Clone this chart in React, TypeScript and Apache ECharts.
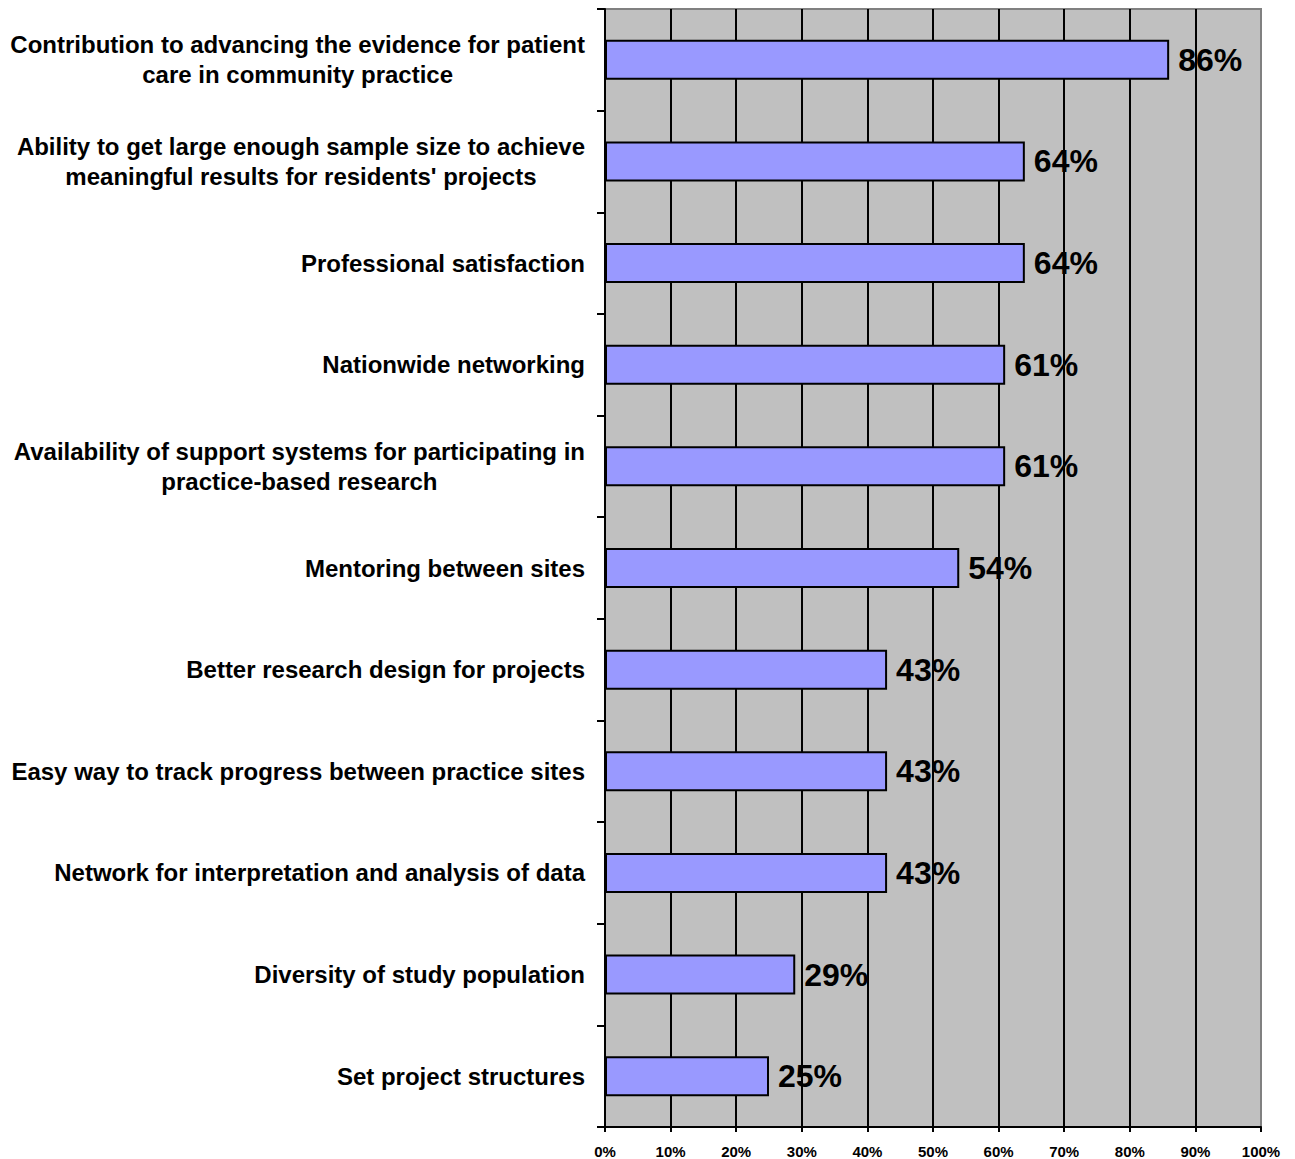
import React, { useEffect, useRef } from "react";
import * as echarts from "echarts";

// Survey items (top to bottom) and the share of respondents choosing each.
const categories: string[] = [
  "Contribution to advancing the evidence for patient\ncare in community practice",
  "Ability to get large enough sample size to achieve\nmeaningful results for residents' projects",
  "Professional satisfaction",
  "Nationwide networking",
  "Availability of support systems for participating in\npractice-based research",
  "Mentoring between sites",
  "Better research design for projects",
  "Easy way to track progress between practice sites",
  "Network for interpretation and analysis of data",
  "Diversity of study population",
  "Set project structures",
];

const percentages: number[] = [86, 64, 64, 61, 61, 54, 43, 43, 43, 29, 25];

const FONT = '"Liberation Sans", Arial, Helvetica, sans-serif';

export default function App() {
  const ref = useRef<HTMLDivElement>(null);

  useEffect(() => {
    if (!ref.current) return;
    const chart = echarts.init(ref.current, undefined, { renderer: "svg" });

    chart.setOption({
      animation: false,
      backgroundColor: "#ffffff",
      textStyle: { fontFamily: FONT },
      grid: {
        left: 605,
        top: 9,
        right: 34,
        bottom: 32,
        show: true,
        backgroundColor: "#C0C0C0",
        borderColor: "#808080",
        borderWidth: 2,
        containLabel: false,
      },
      xAxis: {
        type: "value",
        min: 0,
        max: 100,
        interval: 10,
        axisLine: { show: true, lineStyle: { color: "#000", width: 2 } },
        axisTick: { show: true, length: 5, lineStyle: { color: "#000", width: 2 } },
        axisLabel: {
          formatter: "{value}%",
          fontSize: 15,
          fontWeight: "bold",
          color: "#000",
          fontFamily: FONT,
          margin: 17,
        },
        splitLine: {
          show: true,
          showMinLine: false,
          showMaxLine: false,
          lineStyle: { color: "#000", width: 2 },
        },
      },
      yAxis: {
        type: "category",
        inverse: true,
        data: categories,
        axisLine: { show: true, lineStyle: { color: "#000", width: 2 } },
        axisTick: { show: true, length: 8, lineStyle: { color: "#000", width: 2 } },
        axisLabel: {
          margin: 20,
          formatter: (v: string) =>
            v
              .split("\n")
              .map((line) => `{c|${line}}`)
              .join("\n"),
          rich: {
            c: {
              fontSize: 24,
              fontWeight: "bold",
              fontFamily: FONT,
              lineHeight: 30,
              color: "#000",
              align: "center",
            },
          },
        },
        splitLine: { show: false },
      },
      series: [
        {
          type: "bar",
          data: percentages,
          barWidth: 40,
          itemStyle: {
            color: "#9999FF",
            borderColor: "#000",
            borderWidth: 2,
          },
          label: {
            show: true,
            position: "right",
            distance: 9,
            formatter: "{c}%",
            fontSize: 32,
            fontWeight: "bold",
            fontFamily: FONT,
            color: "#000",
          },
        },
      ],
    });

    return () => chart.dispose();
  }, []);

  return (
    <div
      ref={ref}
      style={{ position: "fixed", left: 0, top: 0, width: 1295, height: 1159 }}
    />
  );
}
